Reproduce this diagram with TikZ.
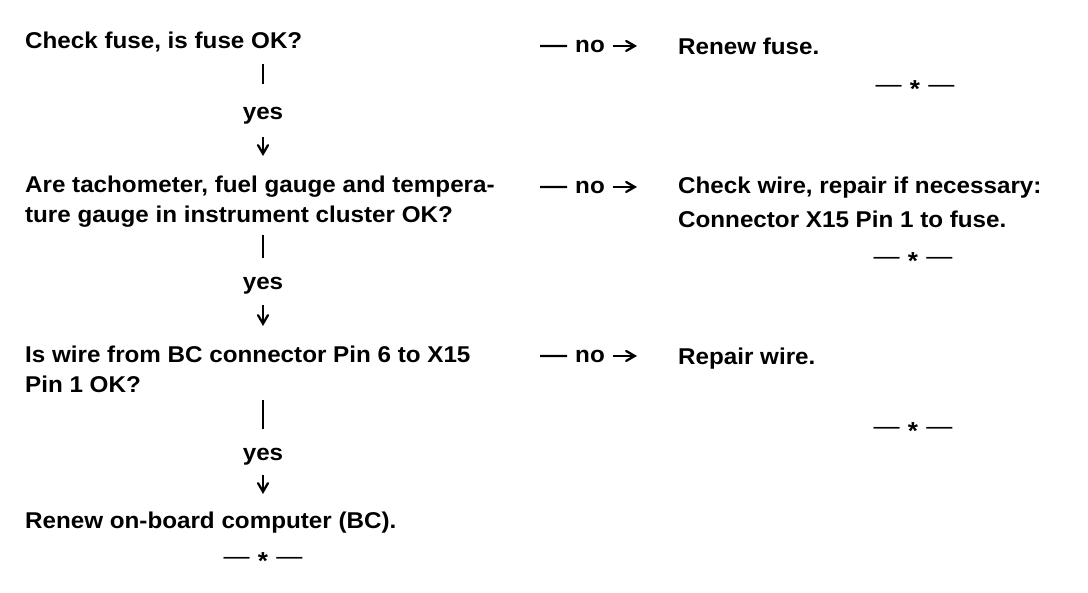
\documentclass[tikz,border=0pt]{standalone}
\usepackage{fontspec}
\setmainfont[FakeStretch=1.06]{Liberation Sans}
\usetikzlibrary{arrows,positioning}
\newcommand{\stopmark}{{\mdseries---}\,\,\raisebox{-0.22em}{*}\,\,{\mdseries---}}

\begin{document}
\begin{tikzpicture}[x=0.02cm, y=-0.02cm, line width=1.3pt, >=angle 60,
  every node/.style={font=\bfseries\fontsize{13}{17}\selectfont},
  step node/.style={anchor=north west, align=left, inner sep=0pt},
  yes node/.style={anchor=base, inner sep=2pt},
  no node/.style={anchor=base, inner xsep=4pt, inner ysep=2pt},
  bar line/.style={line width=1.7pt},
  end mark/.style={font=\bfseries\fontsize{14}{14}\selectfont, inner sep=0pt, anchor=base}]
\useasboundingbox (0,0) rectangle (1088,592);
\begin{scope}
\node[step node] (q1) at (24,31) {Check fuse, is fuse OK?};
\node[step node] (q2) at (24,175) {Are tachometer, fuel gauge and tempera-\\ture gauge in instrument cluster OK?};
\node[step node] (q3) at (24,345) {Is wire from BC connector Pin 6 to X15\\Pin 1 OK?};
\node[step node] (q4) at (24,511) {Renew on-board computer (BC).};
\node[step node] (a1) at (677,37) {Renew fuse.};
\node[step node] (a2) at (677,176) {Check wire, repair if necessary:\\[2pt]Connector X15 Pin 1 to fuse.};
\node[step node] (a3) at (677,347) {Repair wire.};
\node[yes node] (yes1) at (263,119) {yes};
\node[yes node] (yes2) at (263,289) {yes};
\node[yes node] (yes3) at (263,460) {yes};
\node[no node] (no1) at (590,52) {no};
\node[no node] (no2) at (590,193) {no};
\node[no node] (no3) at (590,362) {no};
\coordinate (d1) at (540,46);
\coordinate (d2) at (540,187);
\coordinate (d3) at (540,356);
\node[end mark] (em1) at (915,92) {\stopmark};
\node[end mark] (em2) at (913,264) {\stopmark};
\node[end mark] (em3) at (913,434) {\stopmark};
\node[end mark] (em4) at (263,564) {\stopmark};
\end{scope}
\begin{scope}
% yes branches
\draw[bar line, shorten <=0.22cm, shorten >=0.36cm] (q1.south -| yes1) -- (yes1.north);
\draw[->, shorten <=0.18cm, shorten >=0.38cm] (yes1.south) -- (q2.north -| yes1);
\draw[bar line, shorten <=0.12cm, shorten >=0.28cm] (q2.south -| yes2) -- (yes2.north);
\draw[->, shorten <=0.14cm, shorten >=0.38cm] (yes2.south) -- (q3.north -| yes2);
\draw[bar line, shorten <=0.12cm, shorten >=0.28cm] (q3.south -| yes3) -- (yes3.north);
\draw[->, shorten <=0.12cm, shorten >=0.34cm] (yes3.south) -- (q4.north -| yes3);
% no branches
\draw (d1) -- (no1);
\draw (d2) -- (no2);
\draw (d3) -- (no3);
\draw[->, shorten >=0.8cm] (no1) -- (no1 -| a1.west);
\draw[->, shorten >=0.8cm] (no2) -- (no2 -| a2.west);
\draw[->, shorten >=0.8cm] (no3) -- (no3 -| a3.west);
\end{scope}
\end{tikzpicture}
\end{document}
